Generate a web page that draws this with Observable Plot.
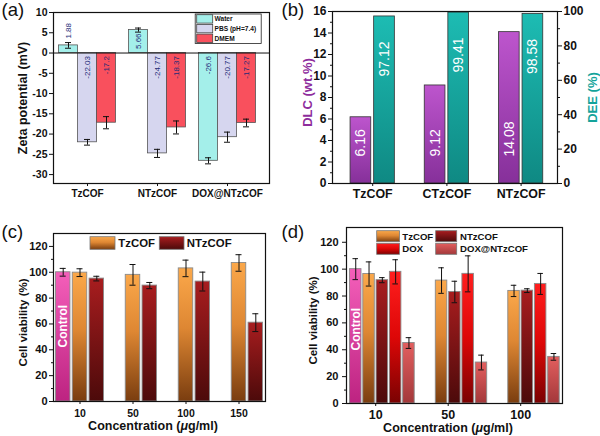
<!DOCTYPE html>
<html>
<head>
<meta charset="utf-8">
<script src="https://cdn.jsdelivr.net/npm/d3@7"></script>
<script src="https://cdn.jsdelivr.net/npm/@observablehq/plot@0.6"></script>
<style>
  html, body { margin: 0; padding: 0; background: #fff; }
  #fig { position: relative; width: 600px; height: 436px; overflow: hidden; background: #fff; }
  .panel { position: absolute; }
  #labels { position: absolute; left: 0; top: 0; pointer-events: none; }
</style>
</head>
<body>
<div id="fig"></div>
<script>
// ===================== DATA =====================
// (a) Zeta potential (mV)
const zetaGroups = ["TzCOF", "NTzCOF", "DOX@NTzCOF"];
const zetaMedia = ["Water", "PBS (pH=7.4)", "DMEM"];
const zetaWater = [1.88, 5.66, -26.6];
const zetaWaterErr = [0.7, 0.5, 0.75];
const zetaPBS = [-22.03, -24.77, -20.77];
const zetaPBSErr = [0.7, 1.0, 1.25];
const zetaDMEM = [-17.2, -18.37, -17.27];
const zetaDMEMErr = [1.5, 1.6, 0.95];
const zetaTicks = [-30, -25, -20, -15, -10, -5, 0, 5, 10];

// (b) Drug loading
const loadGroups = ["TzCOF", "CTzCOF", "NTzCOF"];
const dlcValues = [6.16, 9.12, 14.08];
const deeValues = [97.12, 99.41, 98.58];
const dlcTicks = [0, 2, 4, 6, 8, 10, 12, 14, 16];
const dlcMinor = [1, 3, 5, 7, 9, 11, 13, 15];
const deeTicks = [0, 20, 40, 60, 80, 100];
const deeMinor = [10, 30, 50, 70, 90];

// (c) Cell viability
const concC = ["10", "50", "100", "150"];
const controlC = [100];
const controlCErr = [3];
const tzCOFc = [99.7, 98, 103, 107.2];
const tzCOFcErr = [3, 8, 6.4, 6.4];
const ntzCOFc = [95.1, 89.7, 92.8, 61];
const ntzCOFcErr = [1.8, 2.4, 7.3, 6.9];
const legendC = ["TzCOF", "NTzCOF"];

// (d) Cell viability
const concD = ["10", "50", "100"];
const controlD = [100];
const controlDErr = [7.8];
const tzCOFd = [96.4, 91.5, 83.8];
const tzCOFdErr = [9, 9.5, 4.2];
const ntzCOFd = [91.8, 83, 84];
const ntzCOFdErr = [1.9, 8, 1.4];
const doxD = [98, 96.5, 89];
const doxDErr = [9, 13.4, 7.8];
const doxNtzD = [45, 30.5, 34.7];
const doxNtzDErr = [4, 5.5, 2.5];
const legendD = ["TzCOF", "NTzCOF", "DOX", "DOX@NTzCOF"];

const viabTicks = [0, 20, 40, 60, 80, 100, 120];
const viabMinor = [10, 30, 50, 70, 90, 110];

// ===================== HELPERS =====================
const FONT = '"Liberation Sans", Arial, Helvetica, sans-serif';
const NS = "http://www.w3.org/2000/svg";
function el(tag, attrs, text) {
  const e = document.createElementNS(NS, tag);
  for (const k in attrs) e.setAttribute(k, attrs[k]);
  if (text != null) e.textContent = text;
  return e;
}
const rows = (groups, vals, errs) => vals.map((v, i) => ({group: groups[i], value: v, err: errs[i]}));

function band(domain, rangeWidth, step, bw, align) {
  const paddingInner = 1 - bw / step;
  const paddingOuter = (rangeWidth / step - domain.length + paddingInner) / 2;
  return {type: "band", domain, paddingInner, paddingOuter, align, round: false};
}
function gradients(list) {
  return () => {
    const g = el("g", {});
    const defs = el("defs", {});
    for (const {id, stops} of list) {
      const lg = el("linearGradient", {id, x1: 0, y1: 0, x2: 0, y2: 1});
      for (const [o, c] of stops) lg.appendChild(el("stop", {offset: o, "stop-color": c}));
      defs.appendChild(lg);
    }
    g.appendChild(defs);
    return g;
  };
}
function errorBars(data, dx, bw, cap) {
  const inset = (bw - cap) / 2;
  const o = {stroke: "#111", strokeWidth: 1};
  return [
    Plot.ruleX(data, {x: "group", y1: d => d.value - d.err, y2: d => d.value + d.err, dx, ...o}),
    Plot.tickY(data, {x: "group", y: d => d.value + d.err, dx, insetLeft: inset, insetRight: inset, ...o}),
    Plot.tickY(data, {x: "group", y: d => d.value - d.err, dx, insetLeft: inset, insetRight: inset, ...o})
  ];
}
function legendMark(items, box) {
  return () => {
    const g = el("g", {"font-family": FONT, "font-weight": "bold", "text-anchor": "start"});
    if (box) g.appendChild(el("rect", {x: box.x, y: box.y, width: box.w, height: box.h, fill: "none", stroke: "#222", "stroke-width": 0.8}));
    for (const it of items) {
      g.appendChild(el("rect", {x: it.x, y: it.y, width: it.w, height: it.h, fill: it.fill, stroke: it.stroke, "stroke-width": 0.8}));
      g.appendChild(el("text", {x: it.tx, y: it.ty, "font-size": it.fs, fill: "#111", "text-anchor": "start"}, it.label));
    }
    return g;
  };
}
function xTitle(x, y, size) {
  return () => {
    const t = el("text", {x, y, "text-anchor": "middle", "font-size": size, "font-weight": "bold", "font-family": FONT, fill: "#111"});
    t.appendChild(document.createTextNode("Concentration ("));
    t.appendChild(el("tspan", {"font-style": "italic"}, "\u03bc"));
    t.appendChild(document.createTextNode("g/ml)"));
    return t;
  };
}
const baseStyle = {fontFamily: FONT, fontWeight: "bold", color: "#111", background: "transparent", overflow: "visible"};
const fig = document.getElementById("fig");
function place(svg, left, top) {
  const d = document.createElement("div");
  d.className = "panel";
  d.style.left = left + "px";
  d.style.top = top + "px";
  d.appendChild(svg);
  fig.appendChild(d);
}
const fmtInt = d => String(d);
const yTitle = (label, o) => Plot.text([label], {text: d => d, rotate: -90, textAnchor: "middle", fontWeight: "bold", ...o});

// ===================== PANEL (a) =====================
{
  const L = {W: 300, H: 210, ml: 53, mr: 31, mt: 12, mb: 27};
  const bw = 19;
  const colors = {"Water": "#a4efea", "PBS (pH=7.4)": "#d6d6ef", "DMEM": "#f9505d"};
  const offsets = {"Water": -19, "PBS (pH=7.4)": 0, "DMEM": 19};
  const series = [
    {name: zetaMedia[0], data: rows(zetaGroups, zetaWater, zetaWaterErr)},
    {name: zetaMedia[1], data: rows(zetaGroups, zetaPBS, zetaPBSErr)},
    {name: zetaMedia[2], data: rows(zetaGroups, zetaDMEM, zetaDMEMErr)}
  ];
  const lab = {fontSize: 8, fontWeight: "normal", fill: "#242b78", rotate: -90, text: d => String(d.value)};
  const svg = Plot.plot({
    width: L.W, height: L.H,
    marginLeft: L.ml, marginRight: L.mr, marginTop: L.mt, marginBottom: L.mb,
    style: baseStyle,
    x: band(zetaGroups, L.W - L.ml - L.mr, 70, bw, 0.43),
    y: {domain: [-32.2, 10]},
    marks: [
      ...series.map(s => Plot.barY(s.data, {x: "group", y1: 0, y2: "value", dx: offsets[s.name], fill: colors[s.name], stroke: "#555", strokeWidth: 0.8})),
      Plot.ruleY([0], {stroke: "#111", strokeWidth: 1}),
      ...series.flatMap(s => errorBars(s.data, offsets[s.name], bw, 6)),
      ...series.map(s => Plot.text(s.data.filter(d => d.value < 0), {x: "group", y: 0, dx: offsets[s.name], dy: 3, textAnchor: "end", ...lab})),
      ...series.map(s => Plot.text(s.data.filter(d => d.value > 0), {x: "group", y: d => d.value > 3 ? 0 : d.value + d.err, dx: offsets[s.name], dy: -4, textAnchor: "start", ...lab})),
      Plot.axisY({ticks: zetaTicks, tickSize: 4, tickPadding: 2, fontSize: 10.5, tickFormat: fmtInt, label: null}),
      Plot.axisX({tickSize: 3, tickPadding: 3, fontSize: 10, label: null}),
      yTitle("Zeta potential (mV)", {frameAnchor: "left", dx: -31, fontSize: 12.5}),
      legendMark(zetaMedia.map((m, i) => ({
        x: 196.7, y: 14.7 + i * 9.7, w: 16, h: 8.4, fill: colors[m], stroke: "#444",
        label: m, tx: 214.5, ty: 21.4 + i * 9.7, fs: 6.6
      })), {x: 195.2, y: 14, w: 66, h: 29.5}),
      Plot.frame({stroke: "#111", strokeWidth: 1.2})
    ]
  });
  place(svg, 0, 0);
}

// ===================== PANEL (b) =====================
{
  const L = {W: 300, H: 210, ml: 32, mr: 43, mt: 11, mb: 27};
  const bw = 20.7;
  const k = 16 / 100; // DEE (%) mapped onto DLC axis
  const dlc = rows(loadGroups, dlcValues, [0, 0, 0]);
  const dee = rows(loadGroups, deeValues, [0, 0, 0]);
  const white = {fill: "#fff", fontSize: 14, fontWeight: "normal", rotate: -90, text: d => d3.format(".2f")(d.value)};
  const svg = Plot.plot({
    width: L.W, height: L.H,
    marginLeft: L.ml, marginRight: L.mr, marginTop: L.mt, marginBottom: L.mb,
    style: baseStyle,
    x: band(loadGroups, L.W - L.ml - L.mr, 74.2, bw, 0.534),
    y: {domain: [0, 16]},
    marks: [
      gradients([
        {id: "g-dlc", stops: [[0, "#bd55cd"], [1, "#86309a"]]},
        {id: "g-dee", stops: [[0, "#1dbcb3"], [1, "#0f8983"]]}
      ]),
      Plot.barY(dlc, {x: "group", y1: 0, y2: "value", dx: -11.8, fill: "url(#g-dlc)", stroke: "#333", strokeWidth: 0.8}),
      Plot.barY(dee, {x: "group", y1: 0, y2: d => d.value * k, dx: 11.8, fill: "url(#g-dee)", stroke: "#333", strokeWidth: 0.8}),
      Plot.text(dlc, {x: "group", y: 0, dx: -11.8, dy: -27, textAnchor: "start", ...white}),
      Plot.text(dee, {x: "group", y: d => d.value * k, dx: 11.8, dy: 25, textAnchor: "end", ...white}),
      Plot.axisY({ticks: dlcTicks, tickSize: 4, tickPadding: 2, fontSize: 12, tickFormat: fmtInt, label: null}),
      Plot.axisY({ticks: dlcMinor, tickSize: 2, tickFormat: () => "", label: null}),
      Plot.axisY({anchor: "right", ticks: deeTicks.map(v => v * k), tickSize: 4, tickPadding: 2, fontSize: 12, tickFormat: v => String(Math.round(v / k)), label: null}),
      Plot.axisY({anchor: "right", ticks: deeMinor.map(v => v * k), tickSize: 2, tickFormat: () => "", label: null}),
      Plot.axisX({tickSize: 3, tickPadding: 3, fontSize: 12.4, label: null}),
      yTitle("DLC (wt.%)", {frameAnchor: "left", dx: -24.5, dy: -5, fontSize: 13, fill: "#8e2c9c"}),
      yTitle("DEE (%)", {frameAnchor: "right", dx: 35, fontSize: 13, fill: "#14a39a"}),
      Plot.frame({stroke: "#111", strokeWidth: 1.2})
    ]
  });
  place(svg, 300, 0);
}

// ===================== shared gradients for (c),(d) =====================
const viabGrad = (p) => [
  {id: p + "-ctl", stops: [[0, "#f45fba"], [1, "#bd2381"]]},
  {id: p + "-tz", stops: [[0, "#fba84a"], [0.45, "#de8733"], [1, "#7a3d0f"]]},
  {id: p + "-ntz", stops: [[0, "#a81d1f"], [1, "#4c0a0a"]]},
  {id: p + "-dox", stops: [[0, "#ff1e1e"], [0.5, "#dd0707"], [1, "#7a0202"]]},
  {id: p + "-doxntz", stops: [[0, "#e35f5f"], [1, "#a3383a"]]}
];

// ===================== PANEL (c) =====================
{
  const L = {W: 300, H: 226, ml: 53, mr: 35, mt: 23, mb: 35};
  const bw = 14.5, s = 16.8;
  const ctl = rows(["10"], controlC, controlCErr);
  const tz = rows(concC, tzCOFc, tzCOFcErr);
  const ntz = rows(concC, ntzCOFc, ntzCOFcErr);
  const bar = {x: "group", y1: 0, y2: "value", stroke: "#8a8a8a", strokeWidth: 0.9};
  const svg = Plot.plot({
    width: L.W, height: L.H,
    marginLeft: L.ml, marginRight: L.mr, marginTop: L.mt, marginBottom: L.mb,
    style: baseStyle,
    x: band(concC, L.W - L.ml - L.mr, 53, bw, 0.5),
    y: {domain: [0, 130]},
    marks: [
      gradients(viabGrad("c")),
      Plot.barY(ctl, {...bar, dx: -s, fill: "url(#c-ctl)"}),
      Plot.barY(tz, {...bar, dx: 0, fill: "url(#c-tz)"}),
      Plot.barY(ntz, {...bar, dx: s, fill: "url(#c-ntz)"}),
      ...errorBars(ctl, -s, bw, 6),
      ...errorBars(tz, 0, bw, 6),
      ...errorBars(ntz, s, bw, 6),
      Plot.text(["Control"], {x: () => "10", y: 0, text: d => d, dx: -s, dy: -54, rotate: -90, textAnchor: "start", fill: "#fff", fontSize: 12, fontWeight: "bold"}),
      Plot.axisY({ticks: viabTicks, tickSize: 4, tickPadding: 2, fontSize: 11, tickFormat: fmtInt, label: null}),
      Plot.axisY({ticks: viabMinor, tickSize: 2, tickFormat: () => "", label: null}),
      Plot.axisX({tickSize: 3, tickPadding: 5, fontSize: 10.5, label: null}),
      yTitle("Cell viability (%)", {frameAnchor: "left", dx: -30, dy: 5, fontSize: 11.5}),
      xTitle(L.ml + (L.W - L.ml - L.mr) / 2 - 6, 219.5, 12.5),
      legendMark([
        {x: 90, y: 26.7, w: 25, h: 12.6, fill: "url(#c-tz)", stroke: "#777", label: legendC[0], tx: 118.3, ty: 37.3, fs: 11.4},
        {x: 159.3, y: 26.7, w: 24.7, h: 12.6, fill: "url(#c-ntz)", stroke: "#777", label: legendC[1], tx: 186.7, ty: 37.3, fs: 11.4}
      ]),
      Plot.frame({stroke: "#111", strokeWidth: 1.2})
    ]
  });
  place(svg, 0, 210);
}

// ===================== PANEL (d) =====================
{
  const L = {W: 300, H: 226, ml: 46, mr: 38, mt: 17, mb: 33};
  const bw = 11.5, s = 13.3;
  const ctl = rows(["10"], controlD, controlDErr);
  const tz = rows(concD, tzCOFd, tzCOFdErr);
  const ntz = rows(concD, ntzCOFd, ntzCOFdErr);
  const dox = rows(concD, doxD, doxDErr);
  const dn = rows(concD, doxNtzD, doxNtzDErr);
  const bar = {x: "group", y1: 0, y2: "value", stroke: "#8a8a8a", strokeWidth: 0.9};
  const off = {ctl: -1.5 * s, tz: -0.5 * s, ntz: 0.5 * s, dox: 1.5 * s, dn: 2.5 * s};
  const svg = Plot.plot({
    width: L.W, height: L.H,
    marginLeft: L.ml, marginRight: L.mr, marginTop: L.mt, marginBottom: L.mb,
    style: baseStyle,
    x: band(concD, L.W - L.ml - L.mr, 72.5, bw, 0.394),
    y: {domain: [0, 131]},
    marks: [
      gradients(viabGrad("d")),
      Plot.barY(ctl, {...bar, dx: off.ctl, fill: "url(#d-ctl)"}),
      Plot.barY(tz, {...bar, dx: off.tz, fill: "url(#d-tz)"}),
      Plot.barY(ntz, {...bar, dx: off.ntz, fill: "url(#d-ntz)"}),
      Plot.barY(dox, {...bar, dx: off.dox, fill: "url(#d-dox)"}),
      Plot.barY(dn, {...bar, dx: off.dn, fill: "url(#d-doxntz)"}),
      ...errorBars(ctl, off.ctl, bw, 5.5),
      ...errorBars(tz, off.tz, bw, 5.5),
      ...errorBars(ntz, off.ntz, bw, 5.5),
      ...errorBars(dox, off.dox, bw, 5.5),
      ...errorBars(dn, off.dn, bw, 5.5),
      Plot.text(["Control"], {x: () => "10", y: 0, text: d => d, dx: off.ctl, dy: -53, rotate: -90, textAnchor: "start", fill: "#fff", fontSize: 12, fontWeight: "bold"}),
      Plot.axisY({ticks: viabTicks, tickSize: 4, tickPadding: 4, fontSize: 11, tickFormat: fmtInt, label: null}),
      Plot.axisY({ticks: viabMinor, tickSize: 2, tickFormat: () => "", label: null}),
      Plot.axisX({tickSize: 3, tickPadding: 4, fontSize: 12.5, label: null}),
      yTitle("Cell viability (%)", {frameAnchor: "left", dx: -33, dy: 5, fontSize: 11.5}),
      xTitle(L.ml + (L.W - L.ml - L.mr) / 2 - 6, 222, 12.5),
      legendMark([
        {x: 76.7, y: 20.7, w: 22.7, h: 11, fill: "url(#d-tz)", stroke: "#777", label: legendD[0], tx: 102.3, ty: 30, fs: 9.6},
        {x: 135.7, y: 20.7, w: 21, h: 11, fill: "url(#d-ntz)", stroke: "#777", label: legendD[1], tx: 160, ty: 30, fs: 9.6},
        {x: 76.7, y: 33.3, w: 22.7, h: 11, fill: "url(#d-dox)", stroke: "#777", label: legendD[2], tx: 102.3, ty: 41.7, fs: 9.6},
        {x: 135.7, y: 33.3, w: 21, h: 11, fill: "url(#d-doxntz)", stroke: "#777", label: legendD[3], tx: 160, ty: 41.7, fs: 9.6}
      ]),
      Plot.frame({stroke: "#111", strokeWidth: 1.2})
    ]
  });
  place(svg, 300, 210);
}

// ===================== panel letters =====================
{
  const svg = el("svg", {id: "labels", width: 600, height: 436, "font-family": FONT, "font-size": 18.5, fill: "#111"});
  [["(a)", 1.5, 16.4], ["(b)", 281.5, 16.4], ["(c)", 1.5, 237.8], ["(d)", 281.5, 237.8]]
    .forEach(([t, x, y]) => svg.appendChild(el("text", {x, y}, t)));
  fig.appendChild(svg);
}
</script>
</body>
</html>
